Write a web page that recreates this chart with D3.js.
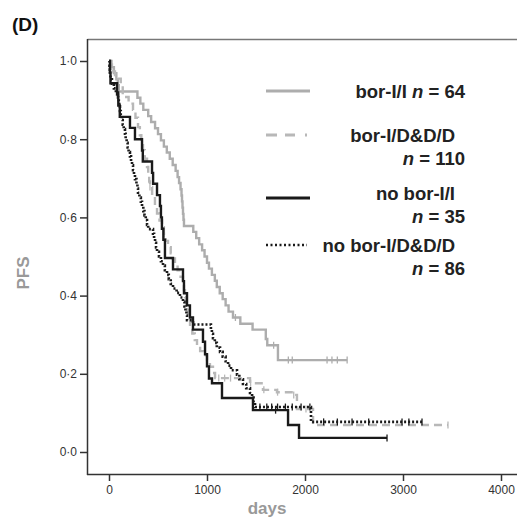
<!DOCTYPE html>
<html>
<head>
<meta charset="utf-8">
<script src="https://cdn.jsdelivr.net/npm/d3@7"></script>
<style>
  html, body { margin: 0; padding: 0; background: #fff; }
  svg { display: block; font-family: "Liberation Sans", Arial, sans-serif; }
</style>
</head>
<body>
<svg id="chart" width="517" height="523"></svg>
<script>
// ---- data (days, survival after the step) ----
const borII = [[0,1],[25,.984],[50,.969],[75,.953],[90,.938],[100,.922],[290,.906],[320,.891],[350,.875],[400,.859],[430,.844],[470,.828],[500,.813],[530,.797],[560,.781],[590,.766],[620,.750],[650,.734],[680,.719],[700,.703],[715,.688],[730,.672],[740,.656],[745,.641],[750,.625],[755,.609],[760,.594],[765,.578],[860,.563],[890,.547],[920,.531],[950,.516],[975,.500],[1000,.484],[1020,.469],[1050,.453],[1080,.438],[1100,.422],[1130,.406],[1160,.391],[1190,.375],[1220,.359],[1265,.344],[1340,.328],[1465,.313],[1600,.289],[1615,.273],[1724,.235]];
const borIIEnd = 2430;
const borIICensor = [1290, 1680, 1830, 1870, 2225, 2275, 2330, 2430];

const borIDDD = [[0,1],[15,.991],[30,.982],[45,.973],[61,.964],[90,.955],[120,.936],[140,.918],[163,.908],[200,.891],[245,.875],[270,.855],[296,.831],[315,.810],[330,.790],[347,.772],[365,.750],[388,.729],[400,.710],[410,.692],[418,.678],[440,.655],[469,.627],[490,.610],[515,.592],[541,.575],[560,.558],[580,.540],[602,.524],[630,.508],[650,.495],[673,.483],[700,.465],[730,.448],[755,.432],[765,.414],[775,.396],[785,.380],[796,.363],[810,.341],[827,.320],[850,.303],[875,.286],[898,.269],[930,.258],[965,.247],[1000,.235],[1030,.218],[1061,.202],[1082,.189],[1439,.176],[1571,.159],[1714,.153],[1878,.146],[1918,.110],[2082,.069]];
const borIDDDEnd = 3459;
const borIDDDCensor = [367, 418, 560, 790, 1120, 1180, 1240, 1445, 1580, 1720, 1885, 2010, 3459];

const noBorII = [[0,1],[10,.971],[15,.943],[82,.914],[95,.886],[110,.857],[214,.829],[265,.800],[337,.771],[345,.743],[439,.714],[450,.686],[490,.657],[520,.629],[530,.600],[540,.571],[555,.543],[571,.496],[653,.467],[755,.437],[765,.406],[796,.375],[826,.344],[857,.313],[959,.282],[980,.250],[1000,.219],[1020,.188],[1051,.176],[1153,.138],[1469,.107],[1827,.069],[1939,.036]];
const noBorIIEnd = 2837;
const noBorIICensor = [1700, 2837];

const noBorIDDD = [[0,1],[5,.988],[8,.977],[10,.965],[15,.953],[30,.942],[50,.930],[70,.919],[92,.907],[100,.895],[105,.884],[112,.872],[120,.860],[130,.849],[140,.837],[150,.826],[163,.814],[170,.802],[180,.791],[190,.779],[200,.767],[214,.756],[225,.744],[235,.733],[245,.721],[255,.709],[265,.698],[280,.686],[290,.674],[296,.663],[310,.651],[325,.640],[337,.628],[350,.616],[362,.605],[375,.593],[388,.581],[400,.570],[449,.558],[460,.547],[470,.535],[480,.523],[490,.512],[510,.500],[530,.488],[551,.477],[570,.465],[592,.453],[610,.442],[630,.430],[653,.418],[690,.407],[724,.395],[755,.384],[770,.372],[780,.360],[790,.349],[796,.337],[857,.326],[1040,.314],[1050,.302],[1061,.291],[1080,.279],[1100,.267],[1133,.256],[1160,.244],[1190,.232],[1215,.221],[1245,.209],[1306,.198],[1330,.186],[1367,.174],[1400,.163],[1439,.151],[1460,.139],[1475,.127],[1490,.115],[2061,.077]];
const noBorIDDDEnd = 3194;
const noBorIDDDCensor = [1540, 1610, 1660, 1720, 1800, 1870, 1960, 2050, 2190, 2330, 2480, 2650, 2990, 3060, 3194];

const xTicks = [0, 1000, 2000, 3000, 4000];
const yTicks = [0, 0.2, 0.4, 0.6, 0.8, 1.0];

const legendLabels = [
  {lines: [["bor-I/I ", false], ["n", true], [" = 64", false]]},
  {lines: [["bor-I/D&D/D", false]], n: "110"},
  {lines: [["no bor-I/I", false]], n: "35"},
  {lines: [["no bor-I/D&D/D", false]], n: "86"}
];

// ---- drawing ----
const svg = d3.select("#chart");
const x = d3.scaleLinear().domain([0, 4000]).range([109, 501]);
const y = d3.scaleLinear().domain([0, 1]).range([452, 61]);

// frame
svg.append("line").attr("x1", 87.5).attr("x2", 517).attr("y1", 39.5).attr("y2", 39.5)
  .attr("stroke", "#777").attr("stroke-width", 1.5);
svg.append("line").attr("x1", 87.5).attr("x2", 87.5).attr("y1", 39).attr("y2", 475)
  .attr("stroke", "#333").attr("stroke-width", 1.5);
svg.append("line").attr("x1", 87).attr("x2", 517).attr("y1", 474.5).attr("y2", 474.5)
  .attr("stroke", "#333").attr("stroke-width", 1.5);

// axes
const yAxis = svg.append("g").attr("transform", "translate(87,0)")
  .call(d3.axisLeft(y).tickValues(yTicks).tickSize(7).tickPadding(3)
    .tickFormat(d => d3.format(".1f")(d).replace(".", "·")));
yAxis.select(".domain").remove();
yAxis.selectAll("line").attr("stroke", "#333").attr("stroke-width", 1.5);
yAxis.selectAll("text").attr("font-size", 12).attr("fill", "#333")
  .attr("font-family", "Liberation Sans, Arial, sans-serif");

const xAxis = svg.append("g").attr("transform", "translate(0,474)")
  .call(d3.axisBottom(x).tickValues(xTicks).tickSize(7).tickPadding(4).tickFormat(d3.format("d")));
xAxis.select(".domain").remove();
xAxis.selectAll("line").attr("stroke", "#333").attr("stroke-width", 1.5);
xAxis.selectAll("text").attr("font-size", 12).attr("fill", "#333")
  .attr("font-family", "Liberation Sans, Arial, sans-serif");

// titles
svg.append("text").attr("x", 12).attr("y", 31).text("(D)")
  .attr("font-size", 19).attr("font-weight", "bold").attr("fill", "#111");
svg.append("text").attr("transform", "translate(29,273) rotate(-90)")
  .attr("text-anchor", "middle").text("PFS")
  .attr("font-size", 17).attr("font-weight", "bold").attr("fill", "#999");
svg.append("text").attr("x", 267).attr("y", 514).attr("text-anchor", "middle").text("days")
  .attr("font-size", 17).attr("font-weight", "bold").attr("fill", "#999");

// curves
const series = [
  {data: borII, end: borIIEnd, censor: borIICensor, color: "#adadad", width: 2.4, dash: null},
  {data: borIDDD, end: borIDDDEnd, censor: borIDDDCensor, color: "#b8b8b8", width: 2.4, dash: "8,5"},
  {data: noBorIDDD, end: noBorIDDDEnd, censor: noBorIDDDCensor, color: "#1a1a1a", width: 2.6, dash: "2,2"},
  {data: noBorII, end: noBorIIEnd, censor: noBorIICensor, color: "#1a1a1a", width: 2.4, dash: null}
];
const line = d3.line().x(d => x(d[0])).y(d => y(d[1])).curve(d3.curveStepAfter);
function survAt(data, t) {
  let s = 1;
  for (const d of data) { if (d[0] <= t) s = d[1]; }
  return s;
}
series.forEach(s => {
  const pts = s.data.concat([[s.end, s.data[s.data.length - 1][1]]]);
  const p = svg.append("path").attr("d", line(pts)).attr("fill", "none")
    .attr("stroke", s.color).attr("stroke-width", s.width);
  if (s.dash) p.attr("stroke-dasharray", s.dash);
  svg.append("g").selectAll("line").data(s.censor).join("line")
    .attr("x1", d => x(d)).attr("x2", d => x(d))
    .attr("y1", d => y(survAt(s.data, d)) - 3.5).attr("y2", d => y(survAt(s.data, d)) + 3.5)
    .attr("stroke", s.color).attr("stroke-width", 1.3);
});

// legend
const lg = svg.append("g");
const legendY = [91, 135, 198, 245];
const legendStyles = [
  {color: "#adadad", dash: null, w: 3},
  {color: "#b8b8b8", dash: "11,8,10,10,2,20", w: 3},
  {color: "#1a1a1a", dash: null, w: 3},
  {color: "#1a1a1a", dash: "2,2.5", w: 2.5}
];
legendY.forEach((ly, i) => {
  const st = legendStyles[i];
  const l = lg.append("line").attr("x1", 266).attr("x2", i === 3 ? 307 : 310)
    .attr("y1", ly).attr("y2", ly).attr("stroke", st.color).attr("stroke-width", st.w);
  if (st.dash) l.attr("stroke-dasharray", st.dash);
});
const fs = 18.5;
function addText(xp, yp, parts, anchor) {
  const t = lg.append("text").attr("x", xp).attr("y", yp).attr("text-anchor", anchor)
    .attr("font-size", fs).attr("font-weight", "bold").attr("fill", "#222");
  parts.forEach(p => t.append("tspan").text(p[0]).attr("font-style", p[1] ? "italic" : "normal"));
}
addText(465, 98, legendLabels[0].lines, "end");
addText(455, 142, legendLabels[1].lines, "end");
addText(465, 165, [["n", true], [" = " + legendLabels[1].n, false]], "end");
addText(455, 200, legendLabels[2].lines, "end");
addText(465, 223, [["n", true], [" = " + legendLabels[2].n, false]], "end");
addText(455, 252, legendLabels[3].lines, "end");
addText(465, 275, [["n", true], [" = " + legendLabels[3].n, false]], "end");
</script>
</body>
</html>
